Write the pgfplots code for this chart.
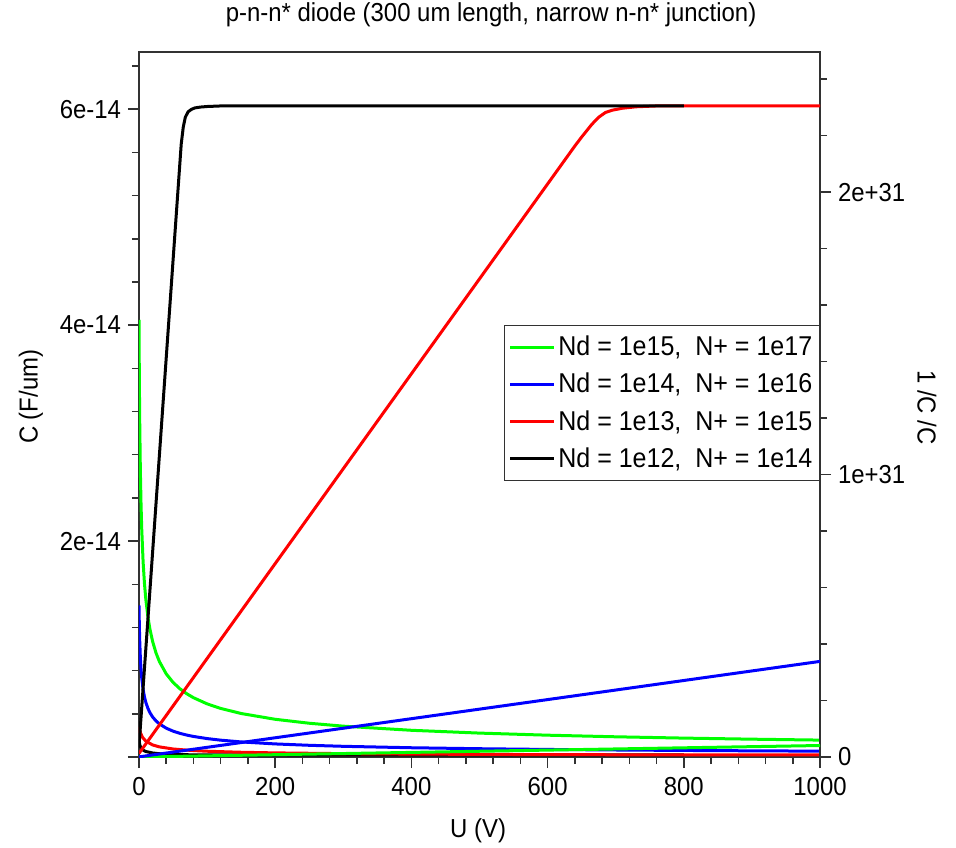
\documentclass[border=0pt]{standalone}
\usepackage{fontspec}
\setmainfont{Liberation Sans}[FakeStretch=0.92]
\usepackage{pgfplots}
\pgfplotsset{compat=1.18}
\definecolor{cgreen}{RGB}{0,255,0}
\definecolor{cblue}{RGB}{0,0,255}
\definecolor{cred}{RGB}{255,0,0}
\definecolor{axgray}{RGB}{50,50,50}
\pgfplotsset{
  base/.style={
    width=340.5pt, height=352.5pt, scale only axis,
    xmin=0, xmax=1000,
    axis line style={axgray, line width=0.75pt},
    tick style={axgray, line width=0.75pt},
    major tick length=5.5pt, minor tick length=3.5pt,
    /pgf/number format/assume math mode=true,
    /pgf/number format/1000 sep={},
    tick label style={font=\fontsize{13}{15}\selectfont},
    label style={font=\fontsize{13}{15}\selectfont},
    every axis plot/.append style={line width=1.5pt, line join=round},
  }
}
\begin{document}
\begin{tikzpicture}
\path[use as bounding box] (-69.5pt,-45pt) rectangle (408.5pt,378.5pt);
\begin{axis}[base,
  ymin=0, ymax=6.53,
  tick align=outside,
  xtick pos=bottom, ytick pos=left,
  xtick={0,200,400,600,800,1000},
  xticklabels={0,200,400,600,800,1000},
  minor xtick={40,80,120,160,240,280,320,360,440,480,520,560,640,680,720,760,840,880,920,960},
  ytick={0,2,4,6}, yticklabels={,2e-14,4e-14,6e-14},
  minor ytick={0.4,0.8,1.2,1.6,2.4,2.8,3.2,3.6,4.4,4.8,5.2,5.6,6.4},
  xticklabel style={yshift=-1pt},
  title={p-n-n* diode (300 um length, narrow n-n* junction)},
  title style={at={(axis description cs:0.517,1)}, anchor=base, yshift=9.5pt, font=\fontsize{13}{15}\selectfont},
  xlabel={U (V)},
  xlabel style={at={(axis description cs:0.498,0)}, anchor=base, yshift=-40pt},
  ylabel={C (F/um)},
  ylabel style={at={(axis description cs:-0.1586,0.511)}, anchor=center},
]
% C curves (units of 1e-14 F/um)
\addplot[cgreen] coordinates {
(0,4.050) (0.5,3.507) (1,3.137) (2,2.651) (3,2.338) (4,2.115) (6,1.811) (8,1.609)
(10,1.463) (13,1.303) (16,1.186) (20,1.070) (25,0.9635) (30,0.8837) (40,0.770)
(50,0.6912) (60,0.6325) (70,0.5866) (80,0.5494) (100,0.4923) (120,0.450) (150,0.403)
(200,0.3494) (250,0.3128) (300,0.2857) (400,0.2475) (500,0.2215) (600,0.2022)
(700,0.1873) (800,0.1752) (900,0.1652) (1000,0.1567)};
\addplot[cblue] coordinates {
(0,1.404) (0.5,1.216) (1,1.088) (2,0.919) (3,0.811) (4,0.733) (6,0.628) (8,0.558)
(10,0.507) (13,0.452) (16,0.411) (20,0.371) (25,0.334) (30,0.3065) (40,0.267)
(50,0.2397) (60,0.2193) (70,0.2034) (80,0.1905) (100,0.1707) (120,0.156) (150,0.1398)
(200,0.1212) (250,0.1085) (300,0.0991) (400,0.0858) (500,0.0768) (600,0.0701)
(700,0.065) (800,0.0608) (900,0.0573) (1000,0.0543)};
\addplot[black] coordinates {
(0,0.1626) (1,0.1177) (2,0.0969) (4,0.0755) (7,0.0599) (10,0.0512) (20,0.0371)
(30,0.0306) (45,0.0251) (60,0.0218) (70,0.02097) (100,0.02084) (800,0.02083)};
\addplot[cred] coordinates {
(0,0.2799) (2,0.2265) (5,0.1839) (10,0.1468) (20,0.1118) (30,0.0938) (50,0.0744)
(75,0.0615) (100,0.0535) (150,0.0440) (200,0.0382) (300,0.0313) (400,0.0271)
(500,0.0243) (600,0.0222) (650,0.02133) (700,0.0208) (1000,0.0208)};
\end{axis}
\begin{axis}[base,
  ymin=0, ymax=2.496,
  axis x line=none, axis y line*=right,
  tick align=outside,
  ytick={0,1,2}, yticklabels={0,1e+31,2e+31},
  minor ytick={0.2,0.4,0.6,0.8,1.2,1.4,1.6,1.8,2.2,2.4},
  ylabel={1 /C /C},
  ylabel style={at={(axis description cs:1.157,0.496)}, anchor=center, rotate=180},
  legend style={at={(1,0.613)}, anchor=north east, draw=axgray, line width=0.75pt,
    fill=white, font=\fontsize{13.6}{16}\selectfont,
    inner xsep=2.25pt, inner ysep=1.4pt, column sep=0pt, row sep=0pt,
    cells={anchor=west},
    nodes={inner xsep=1.25pt, inner ysep=3.65pt}},
  legend image code/.code={\draw[#1, line width=1.5pt] (0pt,0pt) -- (22pt,0pt);},
]
% 1/C^2 curves (units of 1e31)
\addplot[cgreen] coordinates {
(0,0.00006) (100,0.00413) (200,0.00819) (400,0.01632) (600,0.02445) (800,0.03258) (1000,0.04071)};
\addlegendentry{Nd = 1e15,\ \ N+ = 1e17}
\addplot[cblue] coordinates {
(0,0.0005) (100,0.0343) (200,0.0681) (400,0.1357) (600,0.2033) (800,0.2709) (1000,0.3385)};
\addlegendentry{Nd = 1e14,\ \ N+ = 1e16}
\addplot[cred] coordinates {
(0,0.01277) (100,0.3488) (200,0.6848) (300,1.0208) (400,1.3568) (500,1.6928) (600,2.0288)
(640,2.1632) (650,2.195) (665,2.24) (675,2.265) (685,2.282) (695,2.29) (710,2.297)
(730,2.302) (760,2.305) (1000,2.305)};
\addlegendentry{Nd = 1e13,\ \ N+ = 1e15}
\addplot[black] coordinates {
(0,0.0378) (10,0.382) (20,0.726) (30,1.070) (40,1.414) (50,1.758) (58,2.033) (62,2.17)
(65,2.23) (68,2.265) (72,2.284) (77,2.293) (82,2.298) (90,2.301) (100,2.303)
(120,2.305) (800,2.305)};
\addlegendentry{Nd = 1e12,\ \ N+ = 1e14}
\end{axis}
\end{tikzpicture}
\end{document}
